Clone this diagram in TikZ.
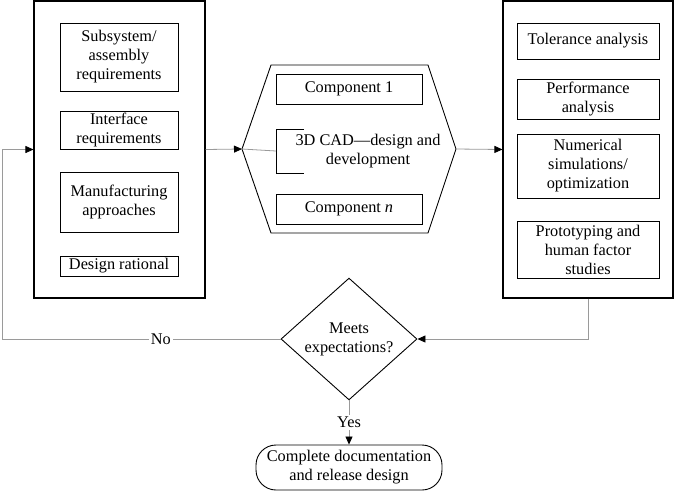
\documentclass[tikz,border=0pt]{standalone}
\usepackage{fontspec}
\setmainfont{Liberation Serif}
\usepackage{tikz}
\usetikzlibrary{arrows.meta, positioning, shapes.geometric}
\definecolor{flowgray}{HTML}{9A9A9A}

\begin{document}
\begin{tikzpicture}[
  x=1pt, y=-1pt,
  txt/.style={font=\fontsize{16.3}{19}\selectfont},
  outer/.style={rectangle, draw, line width=1.1pt, inner sep=0pt},
  item/.style={rectangle, draw, line width=0.9pt, inner sep=0pt, align=center, txt},
  lbox/.style={item, minimum width=118},
  rbox/.style={item, minimum width=142},
  cbox/.style={item, minimum width=146, minimum height=30},
  flow/.style={draw=flowgray, line width=0.8pt, -{Triangle[length=8pt, width=7pt, color=black]}},
  lbl/.style={txt, fill=white, inner sep=2pt},
]
  \useasboundingbox (0,0) rectangle (674,491);

  \node[outer, minimum width=171, minimum height=297] (req) at (119.5,149.5) {};
  \node[lbox, minimum height=68] (sub) at (119,57) {Subsystem/\\assembly\\requirements};
  \node[lbox, minimum height=38] (intf) at (119,130) {Interface\\requirements};
  \node[lbox, minimum height=60] (manu) at (119,202) {Manufacturing\\approaches};
  \node[lbox, minimum height=20] (rat) at (119,266) {Design rational};

  \coordinate (hexW) at (242,149);
  \coordinate (hexE) at (456,149);
  \draw[line width=0.9pt] (hexW) -- (271,65) -- (428,65) -- (hexE) -- (428,233) -- (271,233) -- cycle;
  \node[cbox] (comp1) at (349,89) {Component 1};
  \node[cbox] (compn) at (349,209) {Component \textit{n}};
  \draw[line width=0.9pt] (304,129) -- (276,129) -- (276,173) -- (304,173);
  \coordinate (brM) at (276,151);
  \node[txt, align=center] (cad) at (368,151) {3D CAD---design and\\development};

  \node[outer, minimum width=170, minimum height=297] (ana) at (588,149.5) {};
  \node[rbox, minimum height=36] (tol) at (588,41) {Tolerance analysis};
  \node[rbox, minimum height=40] (perf) at (588,99) {Performance\\analysis};
  \node[rbox, minimum height=64] (num) at (588,166) {Numerical\\simulations/\\optimization};
  \node[rbox, minimum height=57] (proto) at (588,249.5) {Prototyping and\\human factor\\studies};

  \node[diamond, draw, line width=0.9pt, inner sep=0pt, minimum width=136, minimum height=102, align=center, txt] (meets) at (349,339) {Meets\\expectations?};
  \node[rectangle, draw, line width=0.9pt, rounded corners=20pt, minimum width=186, minimum height=45, inner sep=0pt, align=center, txt] (done) at (349,467.5) {Complete documentation\\and release design};

  \coordinate (back) at (2,339);
  \draw[flow] (req.east) -- (hexW);
  \draw[draw=flowgray, line width=0.8pt] (hexW) -- (brM);
  \draw[flow] (hexE) -- (ana.west);
  \draw[flow] (ana.south) |- (meets.east);
  \draw[flow] (meets.west) -- node[lbl, pos=0.43] {No} (back) |- (req.west);
  \draw[flow] (meets.south) -- node[lbl] {Yes} (done.north);
\end{tikzpicture}
\end{document}
